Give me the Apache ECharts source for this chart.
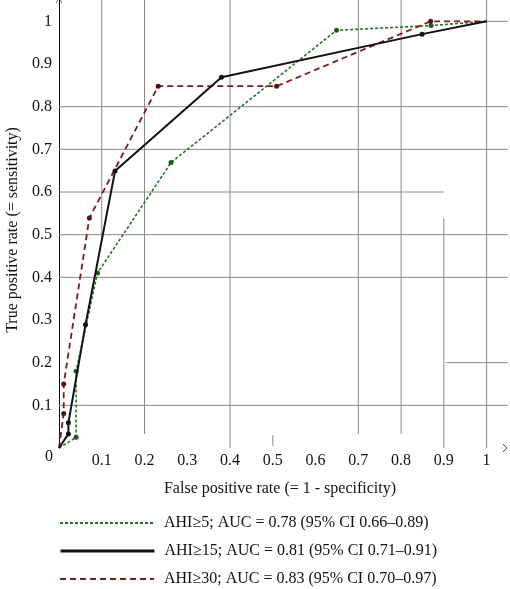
<!DOCTYPE html>
<html>
<head>
<meta charset="utf-8">
<script src="https://cdn.jsdelivr.net/npm/echarts@6/dist/echarts.min.js"></script>
<style>
  html, body { margin: 0; padding: 0; background: #fff; }
  #chart { width: 510px; height: 589px; }
</style>
</head>
<body>
<div id="chart"></div>
<script>
// ROC curves
const seriesNames = [
  "AHI\u22655; AUC = 0.78 (95% CI 0.66\u20130.89)",
  "AHI\u226515; AUC = 0.81 (95% CI 0.71\u20130.91)",
  "AHI\u226530; AUC = 0.83 (95% CI 0.70\u20130.97)"
];
const fprAhi5 = [0, 0.04, 0.04, 0.09, 0.262, 0.649, 0.87, 1];
const tprAhi5 = [0, 0.025, 0.18, 0.41, 0.669, 0.979, 0.99, 1];
const fprAhi15 = [0, 0.022, 0.022, 0.062, 0.131, 0.38, 0.849, 1];
const tprAhi15 = [0, 0.033, 0.059, 0.289, 0.649, 0.869, 0.97, 1];
const fprAhi30 = [0, 0.011, 0.011, 0.071, 0.232, 0.509, 0.869, 1];
const tprAhi30 = [0, 0.081, 0.15, 0.539, 0.848, 0.848, 1, 1];

// the original plot has broken, partial grid lines: [x, yFrom, yTo] and [y, xFrom, xTo]
const vGrid = [[0.1, 0.49, 1.05], [0.2, 0.033, 1.05], [0.4, 0, 1.05], [0.5, 0.005, 0.03],
  [0.7, 0.033, 1.05], [0.8, 0.033, 1.05], [0.9, 0, 0.539], [1, 0, 1.05]];
const hGrid = [[1, 1, 1.05], [0.8, 0, 1.05], [0.7, 0, 1.05], [0.6, 0, 0.9], [0.5, 0, 1.05],
  [0.4, 0, 1.05], [0.2, 0.905, 1.05], [0.1, 0, 1.05]];

const serif = "'Liberation Serif', 'DejaVu Serif', serif";

function pairs(xs, ys) {
  return xs.map((x, i) => {
    const item = { value: [x, ys[i]] };
    if (i === 0 || i === xs.length - 1) item.symbol = "none";
    return item;
  });
}

const segs = vGrid.map(g => [g[0], g[1], g[0], g[2]])
  .concat(hGrid.map(g => [g[1], g[0], g[2], g[0]]));

const fmt = v => (v > 1.001 || v === 0) ? "" : String(Math.round(v * 10) / 10);

// one legend block per row, so the rows never wrap into columns
const legends = seriesNames.map((name, i) => ({
  orient: "vertical", left: 59, top: 515 + i * 28, padding: 0,
  itemWidth: 94, itemHeight: 14,
  itemStyle: { opacity: 0 },
  lineStyle: i === 1 ? { width: 3 } : {},
  textStyle: { fontFamily: serif, fontSize: 16, color: "#111", padding: [0, 0, 0, 5] },
  data: [name]
}));

const chart = echarts.init(document.getElementById("chart"), null, { renderer: "canvas" });

chart.setOption({
  animation: false,
  backgroundColor: "#fff",
  grid: { left: 59, right: 2, top: 0, bottom: 141, outerBoundsMode: "none", containLabel: false },
  xAxis: {
    type: "value", min: 0, max: 1.05, interval: 0.1,
    name: "False positive rate (= 1 - specificity)",
    nameLocation: "middle", nameGap: 33,
    nameTextStyle: { fontFamily: serif, fontSize: 16, color: "#111", padding: [0, 0, 0, -7] },
    axisLine: { show: false },
    axisTick: { show: false },
    splitLine: { show: false },
    axisLabel: { formatter: fmt, margin: 5, fontFamily: serif, fontSize: 16, color: "#111" }
  },
  yAxis: {
    type: "value", min: 0, max: 1.05, interval: 0.1,
    name: "True positive rate (= sensitivity)",
    nameLocation: "middle", nameGap: 37,
    nameTextStyle: { fontFamily: serif, fontSize: 16, color: "#111", padding: [0, 12, 0, 0] },
    axisLine: {
      show: true, lineStyle: { color: "#111", width: 1 },
      symbol: ["none", "path://M0,10 L5,0 L10,10 L9,10 L5,2 L1,10 Z"],
      symbolSize: [7, 6]
    },
    axisTick: { show: false },
    splitLine: { show: false },
    axisLabel: { formatter: fmt, margin: 7, fontFamily: serif, fontSize: 16, color: "#111" }
  },
  legend: legends,
  series: [
    {
      type: "custom", silent: true, z: 1, clip: false,
      encode: { x: [0, 2], y: [1, 3] },
      data: segs,
      renderItem: (params, api) => {
        const p1 = api.coord([api.value(0), api.value(1)]);
        const p2 = api.coord([api.value(2), api.value(3)]);
        return {
          type: "line",
          shape: { x1: p1[0], y1: p1[1], x2: p2[0], y2: p2[1] },
          style: { stroke: "#8a8a8a", lineWidth: 1 }
        };
      }
    },
    {
      name: seriesNames[0], type: "line", z: 3, clip: false,
      data: pairs(fprAhi5, tprAhi5),
      symbol: "circle", symbolSize: 5,
      itemStyle: { color: "#1d5a1d" },
      lineStyle: { color: "#267326", width: 1.6, type: [3, 2] }
    },
    {
      name: seriesNames[1], type: "line", z: 4, clip: false,
      data: pairs(fprAhi15, tprAhi15),
      symbol: "circle", symbolSize: 5,
      itemStyle: { color: "#111" },
      lineStyle: { color: "#111", width: 2, type: "solid" }
    },
    {
      name: seriesNames[2], type: "line", z: 3, clip: false,
      data: pairs(fprAhi30, tprAhi30),
      symbol: "circle", symbolSize: 5,
      itemStyle: { color: "#5a1010" },
      lineStyle: { color: "#7b1c1c", width: 1.8, type: [6, 4] }
    }
  ]
});

// origin label and x-axis arrow head
const o = chart.convertToPixel({ gridIndex: 0 }, [0, 0]);
const e = chart.convertToPixel({ gridIndex: 0 }, [1.05, 0]);
chart.setOption({
  graphic: [
    {
      type: "text", left: o[0] - 14, top: o[1] + 1,
      style: { text: "0", fontFamily: serif, fontSize: 16, fill: "#111" }
    },
    {
      type: "polyline", silent: true,
      shape: { points: [[e[0] - 5, e[1] - 4], [e[0] - 1, e[1]], [e[0] - 5, e[1] + 4]] },
      style: { stroke: "#444", lineWidth: 1, fill: null }
    }
  ]
});
</script>
</body>
</html>
